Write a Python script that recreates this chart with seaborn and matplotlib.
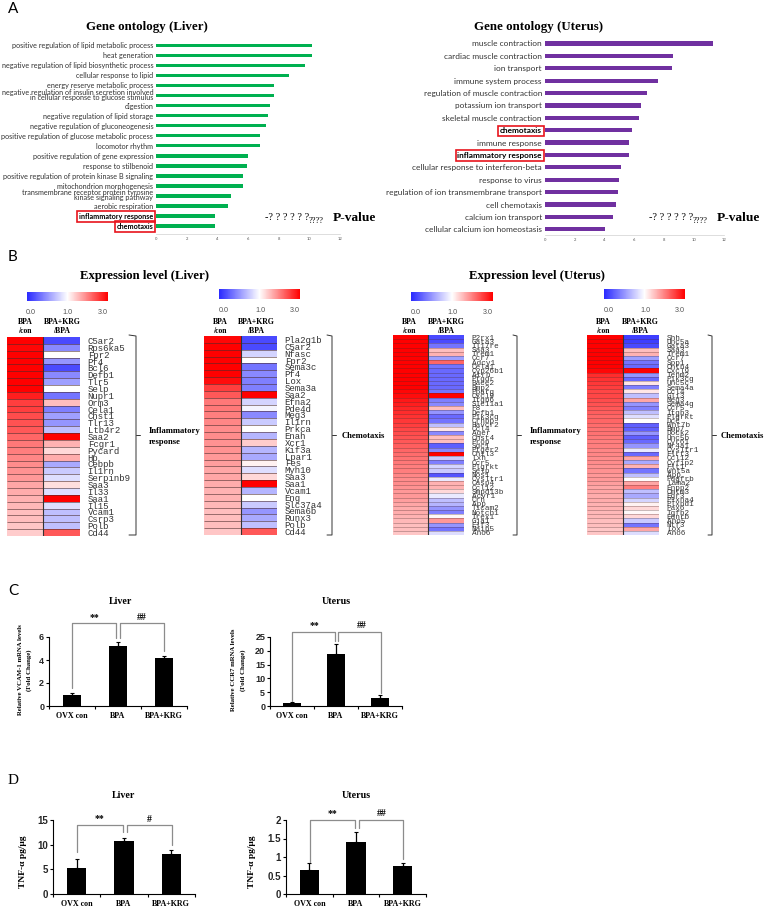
#Recreating the multi panel figure: GO bars, expression heatmaps, qPCR and TNF-a bars

import numpy as np
import pandas as pd
import matplotlib
matplotlib.use("Agg")
import matplotlib.pyplot as plt
from matplotlib.colors import LinearSegmentedColormap, TwoSlopeNorm
import seaborn as sns

#DATA
#Panel A
go_liver_terms = ["positive regulation of lipid metabolic process", "heat generation",
                  "negative regulation of lipid biosynthetic process", "cellular response to lipid",
                  "energy reserve metabolic process",
                  "negative regulation of insulin secretion involved\nin cellular response to glucose stimulus",
                  "digestion", "negative regulation of lipid storage", "negative regulation of gluconeogenesis",
                  "positive regulation of glucose metabolic process", "locomotor rhythm",
                  "positive regulation of gene expression", "response to stilbenoid",
                  "positive regulation of protein kinase B signaling", "mitochondrion morphogenesis",
                  "transmembrane receptor protein tyrosine\nkinase signaling pathway", "aerobic respiration",
                  "inflammatory response", "chemotaxis"]
go_liver_vals = [10.2, 10.2, 9.74, 8.68, 7.68, 7.68, 7.42, 7.31, 7.18, 6.77, 6.75, 5.97, 5.92, 5.68, 5.66, 4.88, 4.7, 3.86, 3.85]
go_uterus_terms = ["muscle contraction", "cardiac muscle contraction", "ion transport", "immune system process",
                   "regulation of muscle contraction", "potassium ion transport", "skeletal muscle contraction",
                   "chemotaxis", "immune response", "inflammatory response",
                   "cellular response to interferon-beta", "response to virus",
                   "regulation of ion transmembrane transport", "cell chemotaxis", "calcium ion transport",
                   "cellular calcium ion homeostasis"]
go_uterus_vals = [11.27, 8.62, 8.53, 7.55, 6.88, 6.46, 6.28, 5.81, 5.63, 5.61, 5.08, 4.97, 4.88, 4.74, 4.57, 4.01]

#Panel B
genes_l1 = ["C5ar2", "Rps6ka5", "Fpr2", "Pf4", "Bcl6", "Defb1", "Tlr5", "Selp", "Nupr1", "Orm3", "Cela1", "Chst1",
            "Tlr13", "Ltb4r2", "Saa2", "Fcgr1", "Pycard", "Hp", "Cebpb", "Il1rn", "Serpinb9", "Saa3", "Il33", "Saa1",
            "Il15", "Vcam1", "Csrp3", "Polb", "Cd44"]
l1_bpa = [3, 2.95, 3, 3, 3, 3, 3, 3, 2.75, 2.5, 2.5, 2.4, 2.35, 2.3, 2.2, 2.05, 2.0, 1.95, 1.9, 1.85, 1.8, 1.7, 1.65, 1.6, 1.55, 1.5, 1.5, 1.45, 1.4]
l1_krg = [0.15, 0.45, 1.0, 0.5, 0.15, 0.45, 0.55, 1.0, 0.35, 1.5, 0.4, 0.55, 0.5, 0.7, 3.0, 1.6, 1.3, 1.65, 0.6, 0.75, 0.85, 1.25, 0.85, 3.0, 0.85, 0.7, 0.7, 0.7, 2.3]

genes_l2 = ["Pla2g1b", "C5ar2", "Nfasc", "Fpr2", "Sema3c", "Pf4", "Lox", "Sema3a", "Saa2", "Efna2", "Pde4d", "Meg3",
            "Il1rn", "Prkca", "Enah", "Xcr1", "Kif3a", "Lpar1", "Fes", "Myh10", "Saa3", "Saa1", "Vcam1", "Eng",
            "Slc37a4", "Sema6b", "Runx3", "Polb", "Cd44"]
l2_bpa = [2.95, 3, 3, 3, 3, 3, 2.9, 2.5, 2.3, 2.05, 2.05, 2.0, 1.95, 1.9, 1.9, 1.85, 1.85, 1.8, 1.75, 1.7, 1.7, 1.65, 1.6, 1.6, 1.55, 1.5, 1.5, 1.5, 1.45]
l2_krg = [0.15, 0.15, 0.8, 1.0, 0.35, 0.45, 0.4, 0.4, 3.0, 0.8, 0.95, 0.45, 0.75, 1.0, 0.65, 1.4, 0.65, 0.6, 1.1, 0.85, 1.3, 3.0, 0.65, 1.0, 0.75, 0.5, 0.6, 0.7, 2.3]

genes_u1 = ["P2rx1", "Gata3", "Il17re", "Saa3", "Trem1", "Ccr7", "Adcy1", "Cela1", "Cyp26b1", "Atrn", "Ptgdr", "Bace2",
            "Bmp2", "Pparg", "Cxcl9", "Itgb6", "Slc11a1", "F8", "Defb1", "Pik3cg", "Crhbp", "Havcr2", "Ccl4", "Ager",
            "Chst4", "Prop", "Sdc1", "Ptger2", "Chil3", "Lxn", "Ccr5", "Plgrkt", "Selp", "Nos1", "Cysltr1", "Casp4",
            "Ccl12", "Smpd13b", "Acvr1", "Crh", "App", "Ticam2", "Notch1", "Trex1", "Gja1", "Elf3", "Naip5", "Ano6"]
u1_bpa = [3, 3, 3, 3, 3, 3, 3, 3, 3, 3, 3, 3, 3, 2.95, 2.9, 2.8, 2.75, 2.7, 2.65, 2.6, 2.55, 2.5, 2.45, 2.4, 2.35, 2.3, 2.25, 2.2, 2.15, 2.1, 2.05, 2.0, 2.0, 1.95, 1.9, 1.9, 1.85, 1.8, 1.8, 1.75, 1.7, 1.65, 1.65, 1.6, 1.55, 1.5, 1.5, 1.45]
u1_krg = [0.15, 0.15, 0.35, 1.5, 1.6, 0.55, 2.2, 0.35, 0.3, 0.3, 0.3, 0.3, 0.3, 0.35, 3.0, 0.4, 0.45, 1.5, 0.5, 0.3, 0.35, 0.7, 1.2, 0.45, 1.5, 1.5, 0.25, 0.45, 3.0, 0.75, 0.4, 0.8, 0.75, 0.2, 0.9, 1.6, 1.6, 1.3, 0.9, 0.7, 0.65, 0.5, 0.4, 1.05, 1.8, 0.5, 0.35, 0.85]

genes_u2 = ["Shh", "Unc5a", "Gata3", "Saa3", "Trem1", "Ccr7", "Spp1", "Cntn4", "Cxcl9", "Tenm2", "Pik3cg", "Unc5c",
            "Sema4a", "Ccl4", "Gli3", "Meg3", "Sema4g", "Ccr5", "Itgb3", "Plgrkt", "Dcc", "Wnt7b", "Bmp7", "Dock2",
            "Unc5b", "Cyr61", "Nr4a1", "Cysltr1", "Flrt3", "Ccl12", "Cyfip2", "Flt1", "Wnt5a", "App", "Pdgfrb", "Lama2",
            "Enpp2", "Cmtm3", "Egr3", "Plxna4", "Plxnd1", "Pax6", "Tgfb2", "Ednrb", "Ano5", "Ntf3", "Lox", "Ano6"]
u2_bpa = [3, 3, 3, 3, 3, 3, 3, 3, 2.95, 2.65, 2.6, 2.55, 2.5, 2.45, 2.45, 2.4, 2.35, 2.3, 2.25, 2.2, 2.2, 2.15, 2.1, 2.1, 2.05, 2.0, 2.0, 1.95, 1.95, 1.9, 1.9, 1.85, 1.85, 1.8, 1.8, 1.75, 1.7, 1.7, 1.65, 1.65, 1.6, 1.6, 1.55, 1.55, 1.5, 1.5, 1.45, 1.45]
u2_krg = [0.1, 0.1, 0.15, 1.5, 1.6, 0.55, 0.35, 0.3, 3.0, 0.5, 0.3, 1.2, 0.4, 1.2, 0.7, 1.7, 0.5, 0.4, 0.7, 0.85, 1.0, 0.25, 0.25, 0.5, 0.25, 0.3, 0.5, 0.9, 0.3, 1.7, 0.6, 1.6, 0.35, 0.7, 1.0, 1.7, 2.0, 0.7, 0.6, 0.8, 1.1, 1.3, 1.05, 1.3, 0.75, 0.35, 1.7, 0.85]

#Panels C and D
groups = ["OVX con", "BPA", "BPA+KRG"]
vcam_vals = [1.0, 5.2, 4.2]
vcam_err = [0.1, 0.4, 0.15]
ccr7_vals = [1.0, 19.0, 3.0]
ccr7_err = [0.4, 3.3, 1.1]
tnf_liver_vals = [5.2, 10.8, 8.1]
tnf_liver_err = [1.8, 0.5, 0.9]
tnf_uterus_vals = [0.65, 1.4, 0.77]
tnf_uterus_err = [0.2, 0.28, 0.08]

SERIF = "Liberation Serif"
W, H = 765, 906

sns.set_style("white")
plt.rcParams["font.family"] = ["Lato", "DejaVu Sans"]

fig = plt.figure(figsize=(W / 100, H / 100), dpi=100)

#I place every axes by its pixel box in the reference, it is easier to compare that way.
def px_axes(x0, y0, x1, y1):
    return fig.add_axes([x0 / W, 1 - y1 / H, (x1 - x0) / W, (y1 - y0) / H])

#Overlay for titles, brackets and other annotation, in pixel coordinates
over = fig.add_axes([0, 0, 1, 1], zorder=10)
over.set_xlim(0, W)
over.set_ylim(H, 0)
over.axis("off")
over.patch.set_alpha(0)

def note(x, y, s, size=6, ha="center", weight="normal", family=SERIF, color="black", rot=0):
    over.text(x, y, s, fontsize=size, ha=ha, va="center", fontweight=weight, family=family, color=color, rotation=rot)


#PANEL A
def go_bars(box, terms, vals, color, ylim, boxed, size, spacing, bar_w):
    ax = px_axes(*box)
    sns.barplot(x=vals, y=terms, orient="h", color=color, width=bar_w, ax=ax, saturation=1, linewidth=0)
    ax.set_xlim(0, 12)
    ax.set_ylim(*ylim)
    ax.set_xticks(range(0, 13, 2))
    ax.tick_params(axis="x", labelsize=3, pad=1, length=1, width=0.3, colors="#555555")
    ax.tick_params(axis="y", labelsize=size, pad=2, length=0, colors="#333333")
    ax.set_xlabel("")
    ax.set_ylabel("")
    for s in ["top", "right", "left"]:
        ax.spines[s].set_visible(False)
    ax.spines["bottom"].set_color("#d0d0d0")
    ax.spines["bottom"].set_linewidth(0.5)
    for lab in ax.get_yticklabels():
        lab.set_linespacing(spacing)
        if lab.get_text() in boxed:
            lab.set_fontweight("bold")
            lab.set_color("black")
            lab.set_bbox(dict(facecolor="none", edgecolor="#e8141c", linewidth=1.2, pad=1.2))
    return ax

go_bars((156, 40.3, 340, 234), go_liver_terms, go_liver_vals, "#00b050", (18.8, -0.5), ["inflammatory response", "chemotaxis"], 5.2, 0.65, 0.36)
go_bars((544.7, 37.3, 724, 235), go_uterus_terms, go_uterus_vals, "#7030a0", (15.46, -0.5), ["inflammatory response", "chemotaxis"], 5.95, 0.72, 0.34)

note(147, 27, "Gene ontology (Liver)", size=9.3, weight="bold")
note(539, 27, "Gene ontology (Uterus)", size=9.3, weight="bold")
note(8, 9, "A", size=11, ha="left", family="Lato")
for x0 in [265, 649]:
    note(x0, 218, "-? ? ? ? ? ?", size=7.4, ha="left")
    note(x0 + 44, 221, "????", size=6, ha="left")
    note(x0 + 68, 218, "P-value", size=9.6, ha="left", weight="bold")


#PANEL B
cmap = LinearSegmentedColormap.from_list("bwr_fold", ["#2a2aff", "white", "#ff0000"])
norm = TwoSlopeNorm(vmin=0, vcenter=1, vmax=3)

def expr_map(box, genes, bpa, krg, size, bar_box, bar_labels_y, bar_label_x, head_x, sep_lw, sep_alpha):
    ax = px_axes(*box)
    cax = px_axes(*bar_box)
    df = pd.DataFrame({"BPA": bpa, "KRG": krg}, index=genes)
    sns.heatmap(df, ax=ax, cmap=cmap, norm=norm, cbar_ax=cax, cbar_kws={"orientation": "horizontal"},
                xticklabels=False, yticklabels=True)
    cax.set_xticks([])
    ax.collections[0].colorbar.outline.set_visible(False)
    #darker lines between the rows, snapped or some of them get lost
    seps = ax.hlines(range(1, len(genes)), 0, 2, color="#4a2a2a", lw=sep_lw, alpha=sep_alpha)
    seps.set_snap(True)
    ax.axvline(1, color="#333333", lw=0.8)
    ax.yaxis.tick_right()
    ax.tick_params(axis="y", length=0, pad=5.5, labelsize=size, labelrotation=0, labelcolor="#333333")
    ax.set_xlabel("")
    ax.set_ylabel("")
    for lab in ax.get_yticklabels():
        lab.set_family("Liberation Mono")
        lab.set_ha("left")
    for x, s in zip(bar_label_x, ["0.0", "1.0", "3.0"]):
        note(x, bar_labels_y, s, size=5.2, family="Liberation Sans", color="#555555")
    note(head_x[0], 322, "BPA", size=5.6, weight="bold")
    note(head_x[0], 331, "/con", size=5.6, weight="bold")
    note(head_x[1], 322, "BPA+KRG", size=5.6, weight="bold")
    note(head_x[1], 331, "/BPA", size=5.6, weight="bold")

expr_map((7, 337, 80, 536), genes_l1, l1_bpa, l1_krg, 6.5, (27, 292, 108, 301), 313, [31, 67, 103], [25, 62], 0.72, 0.55)
expr_map((204, 336, 277, 535), genes_l2, l2_bpa, l2_krg, 6.5, (219, 289, 300, 299), 311, [224, 260, 295], [220, 256], 0.72, 0.55)
expr_map((393, 335, 464, 535), genes_u1, u1_bpa, u1_krg, 5.5, (411, 292, 493, 301), 313, [416, 452, 488], [409, 446], 0.72, 0.3)
expr_map((587, 335, 659, 535), genes_u2, u2_bpa, u2_krg, 5.5, (604, 289, 685, 299), 311, [609, 645, 680], [603, 640], 0.72, 0.3)

#Right brackets with the pathway name
def side_bracket(x0, x1, name, nx, ny):
    over.plot([x0, x1, x1, x0], [335, 336, 535, 535], color="#333333", lw=0.7)
    over.plot([x1, x1 + 4], [435, 435], color="#333333", lw=0.7)
    for i, part in enumerate(name):
        note(nx, ny + i * 11, part, size=6.2, ha="left", weight="bold")

side_bracket(129, 136, ["Inflammatory", "response"], 149, 431)
side_bracket(327, 332, ["Chemotaxis"], 342, 436)
side_bracket(513, 517, ["Inflammatory", "response"], 530, 431)
side_bracket(708, 712, ["Chemotaxis"], 721, 436)

note(145, 276, "Expression level (Liver)", size=9.2, weight="bold")
note(537, 276, "Expression level (Uterus)", size=9.2, weight="bold")
note(8, 257, "B", size=11, ha="left", family="Lato")


#PANELS C AND D
def group_bars(box, vals, err, ymax, yticks, ylabels, label_size):
    ax = px_axes(*box)
    sns.barplot(x=groups, y=vals, color="black", width=0.41, ax=ax, saturation=1, linewidth=0)
    ax.errorbar(range(3), vals, yerr=[np.zeros(3), err], fmt="none", ecolor="black", elinewidth=0.9, capsize=1.6, capthick=0.8)
    ax.set_xlim(-0.5, 2.5)
    ax.set_ylim(0, ymax)
    ax.set_yticks(yticks)
    ax.set_yticklabels(ylabels)
    ax.set_xticks([-0.5, 0.5, 1.5, 2.5], minor=True)
    ax.tick_params(axis="x", which="major", length=0, pad=4, labelsize=5.8, labelcolor="black")
    ax.tick_params(axis="x", which="minor", length=2, width=0.8, bottom=True, color="black")
    ax.tick_params(axis="y", length=2, width=0.8, left=True, pad=1.5, labelsize=label_size, color="black")
    for lab in ax.get_xticklabels():
        lab.set_family(SERIF)
        lab.set_fontweight("bold")
    for lab in ax.get_yticklabels():
        lab.set_family("Liberation Sans")
        lab.set_fontweight("bold")
    ax.set_xlabel("")
    ax.set_ylabel("")
    for s in ["top", "right"]:
        ax.spines[s].set_visible(False)
    for s in ["left", "bottom"]:
        ax.spines[s].set_color("black")
        ax.spines[s].set_linewidth(0.8)
    return ax

group_bars((49, 637, 187, 706), vcam_vals, vcam_err, 6, [0, 2, 4, 6], ["0", "2", "4", "6"], 6.5)
group_bars((270, 637, 402, 706), ccr7_vals, ccr7_err, 25, [0, 5, 10, 15, 20, 25], ["0", "5", "10", "15", "20", "25"], 6.5)
group_bars((53, 820, 195, 894), tnf_liver_vals, tnf_liver_err, 15, [0, 5, 10, 15], ["0", "5", "10", "15"], 7)
group_bars((286, 820, 426, 894), tnf_uterus_vals, tnf_uterus_err, 2, [0, 0.5, 1, 1.5, 2], ["0", "0.5", "1", "1.5", "2"], 7)

#Significance brackets
def sig(xl, xm1, xm2, xr, top, yl, ym, yr, lx, rx, ly, lab_l, lab_r):
    over.plot([xl, xl, xm1, xm1], [yl, top, top, ym], color="#8c8c8c", lw=0.9)
    over.plot([xm2, xm2, xr, xr], [ym, top, top, yr], color="#8c8c8c", lw=0.9)
    note(lx, ly, lab_l, size=7, weight="bold")
    note(rx, ly, lab_r, size=7, weight="bold")

sig(72, 116, 120, 164, 623, 688, 638, 651, 94, 142, 618, "**", "##")
sig(292, 335, 338, 381, 632, 701, 641, 693, 314, 362, 626, "**", "##")
sig(77, 123, 127, 172, 825, 852, 832, 845, 99, 149, 819, "**", "#")
sig(310, 355, 359, 403, 820, 862, 828, 859, 332, 382, 814, "**", "##")

note(121, 602, "Liver", size=7.2, weight="bold")
note(336, 602, "Uterus", size=7.2, weight="bold")
note(124, 795, "Liver", size=7.2, weight="bold")
note(356, 795, "Uterus", size=7.2, weight="bold")
note(8, 591, "C", size=11, ha="left", family="Lato")
note(8, 780, "D", size=11, ha="left", family=SERIF)

note(21, 670, "Relative VCAM-1 mRNA levels", size=4.9, weight="bold", rot=90)
note(29, 670, "(Fold Change)", size=4.9, weight="bold", rot=90)
note(234, 670, "Relative CCR7 mRNA levels", size=4.9, weight="bold", rot=90)
note(243, 670, "(Fold Change)", size=4.9, weight="bold", rot=90)
note(23, 862, "TNF-\u03b1 pg/\u03bcg", size=6.8, weight="bold", rot=90)
note(252, 862, "TNF-\u03b1 pg/\u03bcg", size=6.8, weight="bold", rot=90)

fig.savefig("out.png", dpi=100)
